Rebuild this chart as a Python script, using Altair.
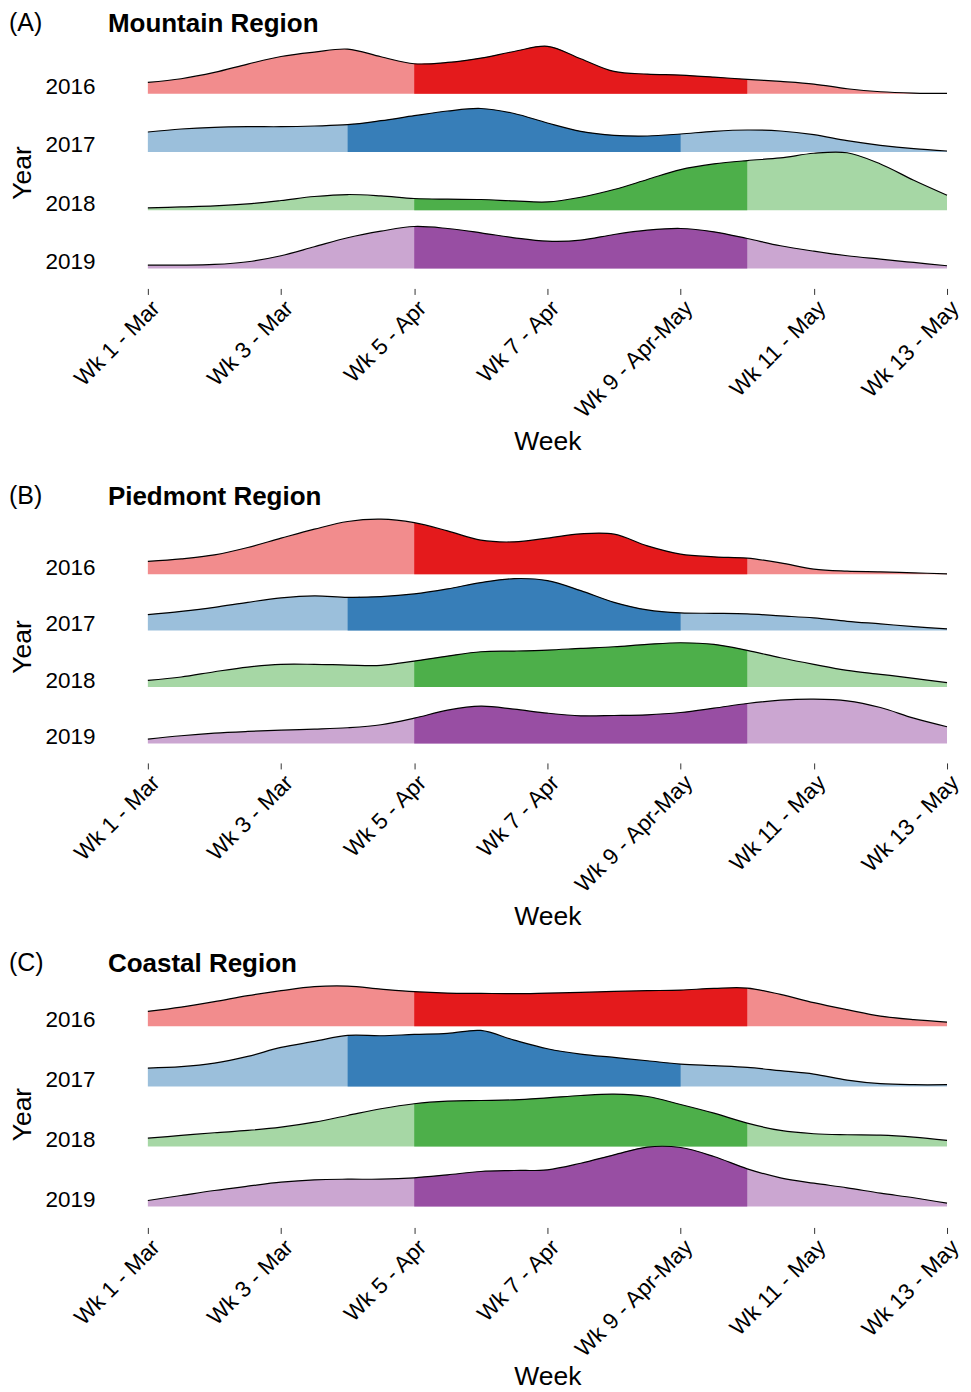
import altair as alt
import pandas as pd

# ---------------- data ----------------
WEEKS = [1, 1.5, 2, 2.5, 3, 3.5, 4, 4.5, 5, 5.5, 6, 6.5, 7, 7.5, 8, 8.5, 9,
         9.5, 10, 10.5, 11, 11.5, 12, 12.5, 13]
YEARS = ["2016", "2017", "2018", "2019"]
# week range of the highlighted (dark) part of each ridge
DARK_START = [5, 4, 5, 5]
DARK_END = [10, 9, 10, 10]

TICK_WEEKS = [1, 3, 5, 7, 9, 11, 13]
TICK_LABELS = ["Wk 1 - Mar", "Wk 3 - Mar", "Wk 5 - Apr", "Wk 7 - Apr",
               "Wk 9 - Apr-May", "Wk 11 - May", "Wk 13 - May"]

# relative density (scaled ridge height) per week
MOUNTAIN_2016 = [11.3, 15.0, 21.3, 29.7, 37.3, 41.7, 44.7, 37.0, 30.0, 31.3, 35.7, 42.3, 47.5,
                 35.0, 22.3, 19.7, 18.7, 16.7, 14.3, 12.3, 9.7, 5.0, 2.0, 0.7, 0.3]
MOUNTAIN_2017 = [20.0, 23.0, 24.7, 25.3, 25.3, 26.0, 27.3, 31.3, 36.3, 41.0, 43.5, 38.5, 29.0,
                 20.7, 16.7, 16.0, 18.0, 20.7, 22.0, 21.0, 17.3, 11.3, 6.7, 3.3, 1.0]
MOUNTAIN_2018 = [2.3, 3.3, 4.3, 6.3, 9.7, 13.7, 15.7, 14.3, 11.7, 11.0, 10.7, 9.3, 8.3,
                 13.0, 20.7, 30.7, 40.7, 46.3, 49.7, 52.3, 57.0, 57.5, 46.3, 30.0, 15.0]
MOUNTAIN_2019 = [3.3, 3.3, 4.0, 6.7, 12.7, 21.7, 30.7, 37.3, 42.0, 40.0, 35.7, 30.7, 27.3,
                 28.3, 34.0, 38.3, 40.0, 36.7, 30.0, 22.7, 17.3, 12.7, 9.3, 6.0, 2.7]

PIEDMONT_2016 = [12.7, 15.3, 19.3, 26.7, 36.0, 45.0, 52.7, 55.0, 51.5, 43.3, 34.0, 32.3, 36.0,
                 40.3, 40.0, 28.3, 20.0, 17.3, 16.0, 11.3, 5.0, 3.0, 2.3, 1.3, 0.3]
PIEDMONT_2017 = [16.0, 19.3, 23.3, 28.3, 32.7, 34.7, 33.3, 34.0, 36.7, 41.7, 48.0, 52.0, 50.0,
                 40.0, 28.3, 20.7, 17.7, 17.3, 16.7, 14.7, 12.7, 9.3, 6.7, 4.0, 1.7]
PIEDMONT_2018 = [6.7, 10.0, 15.3, 20.0, 22.7, 22.7, 22.0, 21.7, 26.0, 31.0, 35.3, 36.0, 37.0,
                 38.7, 40.3, 42.7, 44.3, 42.7, 36.7, 29.3, 22.7, 16.7, 12.7, 8.7, 4.3]
PIEDMONT_2019 = [4.3, 7.7, 10.3, 12.0, 13.3, 14.3, 15.7, 18.7, 25.3, 33.3, 37.3, 34.3, 30.3,
                 27.7, 28.0, 28.7, 31.0, 35.3, 40.0, 43.3, 44.3, 42.7, 36.0, 25.3, 16.7]

COASTAL_2016 = [15.0, 19.3, 24.7, 30.7, 35.7, 39.7, 40.3, 37.3, 34.7, 33.3, 33.0, 32.7, 33.3,
                34.0, 35.0, 35.7, 36.3, 38.0, 38.3, 32.0, 23.7, 16.7, 10.3, 6.7, 4.3]
COASTAL_2017 = [18.3, 19.7, 23.3, 30.0, 39.0, 45.0, 51.0, 50.7, 52.0, 53.0, 56.0, 46.3, 37.7,
                32.3, 29.0, 25.7, 22.3, 20.7, 19.0, 15.7, 12.3, 6.3, 2.7, 1.7, 1.7]
COASTAL_2018 = [8.3, 11.0, 13.7, 16.0, 19.3, 24.3, 31.0, 37.7, 42.7, 45.3, 46.0, 46.7, 48.7,
                51.0, 52.3, 50.0, 42.0, 33.3, 23.3, 16.0, 12.7, 11.7, 11.3, 9.3, 6.0]
COASTAL_2019 = [6.0, 11.0, 16.0, 20.3, 24.3, 26.7, 27.3, 27.3, 28.7, 31.7, 35.0, 36.0, 36.7,
                43.3, 51.7, 59.5, 59.0, 50.0, 37.7, 28.7, 23.3, 18.7, 13.3, 8.7, 3.3]

# ---------------- styles ----------------
LIGHT = ["#F28C8D", "#9BBFDB", "#A6D7A5", "#CBA6D1"]
DARK = ["#E41A1C", "#377EB8", "#4DAF4A", "#984EA3"]
FONT = "Liberation Sans"
PLOT_W = 800
CURVE = "catmull-rom"


def panel(series, tag, name, row_gap, bottom_gap, height, title_y, top_ext, bottom_ext,
          week_pad):
    rows = []
    for k, yr in enumerate(YEARS):
        base = (3 - k) * row_gap
        for w, h in zip(WEEKS, series[k]):
            rows.append({"year": yr, "week": w, "dens": h, "base": base,
                         "top": base + h,
                         "dark": DARK_START[k] <= w <= DARK_END[k]})
    df = pd.DataFrame(rows)

    xenc = alt.X("week:Q",
                 scale=alt.Scale(domain=[1, 13], nice=False, zero=False),
                 axis=alt.Axis(values=TICK_WEEKS,
                               labelExpr=f"{TICK_LABELS}[round((datum.value - 1) / 2)]",
                               labelAngle=-45, labelAlign="right", labelBaseline="top",
                               labelFontSize=22.5, labelColor="black", labelPadding=2,
                               labelFlush=False, labelOverlap=False, labelBound=False,
                               tickSize=6, tickColor="#333333", tickWidth=1,
                               domain=False, grid=False,
                               title="Week", titleFontSize=26.5, titleFontWeight="normal",
                               titleColor="black", titlePadding=week_pad))
    yscale = alt.Scale(domain=[-bottom_gap, height - bottom_gap], nice=False, zero=False)
    yvals = [(3 - k) * row_gap for k in range(4)]
    yaxis = alt.Axis(values=yvals,
                     labelExpr=f"{YEARS[::-1]}[round(datum.value / {row_gap})]",
                     ticks=False, domain=False, grid=False,
                     labelFontSize=22.5, labelColor="black", labelPadding=53,
                     labelBaseline="alphabetic", labelAlign="right", labelOverlap=False,
                     title="Year", titleFontSize=26.5, titleFontWeight="normal",
                     titleColor="black", titlePadding=8)

    base = alt.Chart(df).encode(x=xenc)
    light = base.mark_area(interpolate=CURVE).encode(
        y=alt.Y("top:Q", scale=yscale, axis=yaxis, stack=None),
        y2="base:Q",
        color=alt.Color("year:N", scale=alt.Scale(domain=YEARS, range=LIGHT), legend=None),
    )
    dark = base.transform_filter("datum.dark").mark_area(interpolate=CURVE).encode(
        y=alt.Y("top:Q", stack=None),
        y2="base:Q",
        color=alt.Color("year:N", scale=alt.Scale(domain=YEARS, range=DARK), legend=None),
    )
    line = base.mark_line(interpolate=CURVE, color="black", strokeWidth=1.2).encode(
        y=alt.Y("top:Q"),
        detail="year:N",
    )
    tag_txt = alt.Chart(pd.DataFrame({"t": [tag]})).mark_text(
        align="left", baseline="top", fontSize=25, font=FONT, color="black"
    ).encode(text="t:N", x=alt.value(-139), y=alt.value(title_y))
    name_txt = alt.Chart(pd.DataFrame({"t": [name]})).mark_text(
        align="left", baseline="top", fontSize=26, fontWeight="bold", font=FONT,
        color="black"
    ).encode(text="t:N", x=alt.value(-40), y=alt.value(title_y))
    # invisible anchors that fix the panel's extent inside the column
    top_anchor = alt.Chart(pd.DataFrame({"t": [0]})).mark_point(
        size=1, strokeWidth=0, opacity=0).encode(x=alt.value(-139), y=alt.value(-top_ext))
    bot_anchor = alt.Chart(pd.DataFrame({"t": [0]})).mark_point(
        size=1, strokeWidth=0, opacity=0).encode(x=alt.value(-139), y=alt.value(bottom_ext))

    return alt.layer(light, dark, line, tag_txt, name_txt, top_anchor, bot_anchor).resolve_scale(
        color="independent").properties(width=PLOT_W, height=height)


pA = panel([MOUNTAIN_2016, MOUNTAIN_2017, MOUNTAIN_2018, MOUNTAIN_2019],
           "(A)", "Mountain Region", 58.3, 20, 232, -46, 47, 405, 6)
pB = panel([PIEDMONT_2016, PIEDMONT_2017, PIEDMONT_2018, PIEDMONT_2019],
           "(B)", "Piedmont Region", 56.5, 19.5, 233, -46, 67, 405, 6)
pC = panel([COASTAL_2016, COASTAL_2017, COASTAL_2018, COASTAL_2019],
           "(C)", "Coastal Region", 60.1, 21, 227, -50, 64, 170, 2)

chart = alt.vconcat(pA, pB, pC, spacing=0).properties(
    padding={"left": 0, "top": 0, "right": 0, "bottom": 0}
).configure(
    font=FONT, background="white"
).configure_view(stroke=None)

chart.save("out.html", embed_options={"renderer": "svg", "actions": False})
